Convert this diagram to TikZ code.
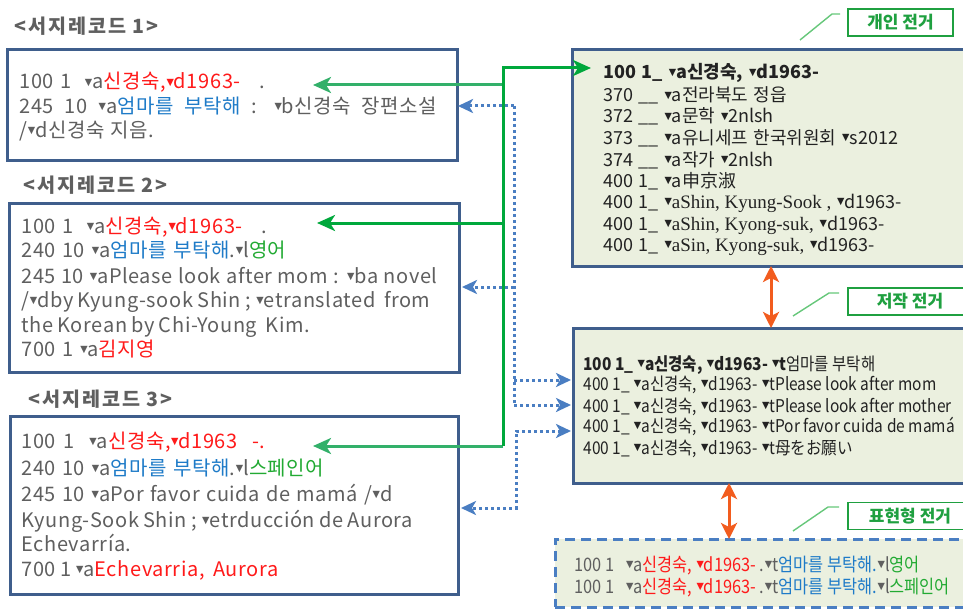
\documentclass[tikz,border=0pt]{standalone}
\usepackage{fontspec}
\setmainfont{Noto Sans CJK KR}
\newfontfamily\recfont[WordSpace=1.25,LetterSpace=3]{Noto Sans CJK KR}
\newfontfamily\titlefont[LetterSpace=10]{Noto Sans CJK KR}
\newfontfamily\authfont[WordSpace=1.3]{Noto Sans CJK KR}
\newfontfamily\trifont{DejaVu Sans}
\newfontfamily\serifpart{Liberation Serif}
\newfontfamily\condfont[FakeStretch=0.88]{Noto Sans CJK KR}
\usetikzlibrary{arrows.meta}
\definecolor{boxblue}{HTML}{3F5E8C}
\definecolor{fillg}{HTML}{EBF0DF}
\definecolor{txtgray}{HTML}{5F5F5F}
\definecolor{txtred}{HTML}{FF1A1A}
\definecolor{txtblue}{HTML}{1E7BC8}
\definecolor{txtgreen}{HTML}{22AA33}
\definecolor{arrgreen}{HTML}{00A83C}
\definecolor{arrgreenl}{HTML}{33B06A}
\definecolor{dotblue}{HTML}{4A7EC2}
\definecolor{orng}{HTML}{F25C1E}
\definecolor{lblgreen}{HTML}{1FA040}
\definecolor{leadgreen}{HTML}{66C77A}
\definecolor{darktxt}{HTML}{222222}
\newcommand\tri{{\trifont\fontsize{4.8}{5}\selectfont\hspace{0.3pt}\raisebox{1.6pt}{▼}}}
\newcommand\cred[1]{\textcolor{txtred}{#1}}
\newcommand\cblue[1]{\textcolor{txtblue}{#1}}
\newcommand\cgrn[1]{\textcolor{txtgreen}{#1}}
\newcommand\fitline[2]{\makebox[#1][s]{#2}}
\tikzset{
  recbox/.style={draw=boxblue, line width=1.5pt, fill=white, anchor=north west, inner sep=0pt, outer sep=0pt},
  authbox/.style={draw=boxblue, line width=1.5pt, fill=fillg, anchor=north west, inner sep=0pt, outer sep=0pt},
  exprbox/.style={draw=dotblue, line width=1.5pt, dash pattern=on 5pt off 3pt, fill=fillg, anchor=north west, inner sep=0pt, outer sep=0pt},
  ln/.style={anchor=base west, inner sep=0pt, font=\recfont\fontsize{10}{12}\selectfont, text=txtgray},
  lnA/.style={anchor=base west, inner sep=0pt, font=\authfont\fontsize{9}{11}\selectfont, text=darktxt},
  lnB/.style={anchor=base west, inner sep=0pt, font=\condfont\fontsize{8.8}{10}\selectfont, text=darktxt},
  lnC/.style={anchor=base west, inner sep=0pt, font=\condfont\fontsize{9.3}{11}\selectfont, text=txtgray},
  rectitle/.style={anchor=west, inner sep=0pt, font=\titlefont\bfseries\fontsize{9.8}{11}\selectfont, text=txtgray},
  lbl/.style={draw=lblgreen, line width=0.7pt, fill=white, text=lblgreen, font=\bfseries\fontsize{8.5}{10}\selectfont, minimum height=13.5pt, inner sep=0pt},
  leader/.style={draw=leadgreen, line width=0.7pt},
  garrow/.style={draw=arrgreen, line width=1.5pt, -{Stealth[length=9pt,width=8pt,inset=2.5pt]}},
  garrowl/.style={draw=arrgreenl, line width=1.5pt, -{Stealth[length=9pt,width=8pt,inset=2.5pt]}},
  dline/.style={draw=dotblue, line width=1.5pt, dash pattern=on 1.5pt off 1.5pt},
  darrow/.style={dline, -{Stealth[length=7.5pt,width=7pt,inset=2pt]}},
  dboth/.style={dline, {Stealth[length=7.5pt,width=7pt,inset=2pt]}-{Stealth[length=7.5pt,width=7pt,inset=2pt]}},
  oarrow/.style={draw=orng, line width=1.5pt, {Stealth[length=8pt,width=8pt,inset=2pt]}-{Stealth[length=8pt,width=8pt,inset=2pt]}}
}
\begin{document}
\begin{tikzpicture}[x=0.5pt,y=-0.5pt]
\useasboundingbox (0,0) rectangle (963,610);
% titles
\node[rectitle] (t1) at (14,26) {<서지레코드 1>};
\node[rectitle] (t2) at (23,185) {<서지레코드 2>};
\node[rectitle] (t3) at (28,399) {<서지레코드 3>};
% record boxes
\node[recbox, minimum width=225pt, minimum height=55pt] (b1) at (7,50) {};
\node[recbox, minimum width=225pt, minimum height=84.5pt] (b2) at (9,203) {};
\node[recbox, minimum width=224pt, minimum height=89pt] (b3) at (10,416) {};
% authority boxes
\node[authbox, minimum width=202pt, minimum height=108pt] (bA) at (572,50) {};
\node[authbox, minimum width=202pt, minimum height=77.5pt] (bB) at (573,328) {};
\node[exprbox, minimum width=212pt, minimum height=34pt] (bC) at (555,539) {};
% record 1
\node[ln] (r1a) at (19,89) {\fitline{123pt}{100 1\ \ \tri a\cred{신경숙,\tri d1963-}\ \ \ .}};
\node[ln] (r1b) at (19,113) {\fitline{209pt}{245 10 \tri a\cblue{엄마를 부탁해} : \tri b신경숙 장편소설}};
\node[ln] (r1c) at (19,137) {/\tri d신경숙 지음.};
% record 2
\node[ln] (r2a) at (21,233) {\fitline{123pt}{100 1\ \ \tri a\cred{신경숙,\tri d1963-}\ \ \ .}};
\node[ln] (r2b) at (21,257) {240 10 \tri a\cblue{엄마를 부탁해}.\tri l\cgrn{영어}};
\node[ln] (r2c) at (21,283) {\fitline{208pt}{245 10 \tri aPlease look after mom : \tri ba novel}};
\node[ln] (r2d) at (21,307) {\fitline{202.5pt}{/\tri dby Kyung-sook Shin ; \tri etranslated\ \ from}};
\node[ln] (r2e) at (21,332) {\fitline{142pt}{the Korean by Chi-Young\ \ Kim.}};
\node[ln] (r2f) at (21,356) {700 1 \tri a\cred{김지영}};
% record 3
\node[ln] (r3a) at (21,448) {\fitline{122pt}{100 1\ \ \tri a\cred{신경숙,\tri d1963\ \ -.}}};
\node[ln] (r3b) at (21,475) {240 10 \tri a\cblue{엄마를 부탁해}.\tri l\cgrn{스페인어}};
\node[ln] (r3c) at (21,501) {\fitline{185.5pt}{245 10 \tri aPor favor cuida de mamá /\tri d}};
\node[ln] (r3d) at (21,527) {\fitline{195pt}{Kyung-Sook Shin ; \tri etrducción de Aurora}};
\node[ln] (r3e) at (21,551) {Echevarría.};
\node[ln] (r3f) at (21,576) {\fitline{124.5pt}{700 1 \tri a\cred{Echevarria,\ \ Aurora}}};
% box A
\node[lnA] (aa) at (603,79) {\bfseries 100 1\_ \tri a신경숙, \tri d1963-};
\node[lnA] (ab) at (603,102) {370 \_\_ \tri a전라북도 정읍};
\node[lnA] (ac) at (603,123) {372 \_\_ \tri a문학 \tri 2nlsh};
\node[lnA] (ad) at (603,144) {373 \_\_ \tri a유니세프 한국위원회 \tri s2012};
\node[lnA] (ae) at (603,166) {374 \_\_ \tri a작가 \tri 2nlsh};
\node[lnA] (af) at (603,187) {400 1\_ \tri a申京淑};
\node[lnA] (ag) at (603,208) {400 1\_ \tri{\serifpart\fontsize{9.5}{11}\selectfont aShin, Kyung-Sook ,} \tri d1963-};
\node[lnA] (ah) at (603,230) {400 1\_ \tri{\serifpart\fontsize{9.5}{11}\selectfont aShin, Kyong-suk,} \tri d1963-};
\node[lnA] (ai) at (603,251) {400 1\_ \tri{\serifpart\fontsize{9.5}{11}\selectfont aSin, Kyong-suk,} \tri d1963-};
% box B
\node[lnB] (ba) at (583,370) {{\bfseries 100 1\_ \tri a신경숙, \tri d1963- \tri t}엄마를 부탁해};
\node[lnB] (bb) at (583,390) {400 1\_ \tri a신경숙, \tri d1963- \tri tPlease look after mom};
\node[lnB] (bc) at (583,412) {400 1\_ \tri a신경숙, \tri d1963- \tri tPlease look after mother};
\node[lnB] (bd) at (583,432) {400 1\_ \tri a신경숙, \tri d1963- \tri tPor favor cuida de mamá};
\node[lnB] (be) at (583,454) {400 1\_ \tri a신경숙, \tri d1963- \tri t母をお願い};
% box C
\node[lnC] (ca) at (574,571) {100 1\ \ \ \tri a\cred{신경숙, \tri d1963-} .\tri t\cblue{엄마를 부탁해.}\tri l\cgrn{영어}};
\node[lnC] (cb) at (574,593) {100 1\ \ \ \tri a\cred{신경숙, \tri d1963-} .\tri t\cblue{엄마를 부탁해.}\tri l\cgrn{스페인어}};
% labels
\node[lbl, minimum width=52.5pt] (lA) at (900.5,22.5) {개인 전거};
\node[lbl, minimum width=62pt] (lB) at (910,301.5) {저작 전거};
\node[lbl, minimum width=62pt] (lC) at (910,516) {표현형 전거};
\coordinate (kA1) at (800,40); \coordinate (kA2) at (832,14); \coordinate (kA3) at (840,14);
\coordinate (kB1) at (793,316); \coordinate (kB2) at (829,293); \coordinate (kB3) at (839,293);
\coordinate (kC1) at (793,531); \coordinate (kC2) at (828,507); \coordinate (kC3) at (839,507);
\draw[leader] (kA1) -- (kA2) -- (kA3);
\draw[leader] (kB1) -- (kB2) -- (kB3);
\draw[leader] (kC1) -- (kC2) -- (kC3);
% green connectors
\coordinate (g0) at (503,68);
\coordinate (g1) at (503,85);
\coordinate (g2) at (503,223);
\coordinate (g3) at (503,446);
\coordinate (tA) at (591,68);
\coordinate (t1) at (313,85);
\coordinate (t2) at (317,223);
\coordinate (t3) at (313,446);
\draw[garrowl] (g1) -- (t1);
\draw[garrow] (g2) -- (t2);
\draw[garrowl] (g3) -- (t3);
\draw[garrow] (g3) -- (g0) -- (tA);
% blue dotted connectors
\coordinate (d1) at (514,106);
\coordinate (d2) at (514,287);
\coordinate (d3) at (514,380);
\coordinate (d4) at (514,405);
\coordinate (s1) at (458,106);
\coordinate (s2) at (462,287);
\coordinate (sB1) at (571,380);
\coordinate (sB2) at (571,405);
\coordinate (e1) at (516,431);
\coordinate (e2) at (516,508);
\coordinate (sB3) at (571,431);
\coordinate (s3) at (461,508);
\draw[dline] (d1) -- (d4);
\draw[darrow] (d1) -- (s1);
\draw[darrow] (d2) -- (s2);
\draw[darrow] (d3) -- (sB1);
\draw[darrow] (d4) -- (sB2);
\draw[dboth] (sB3) -- (e1) -- (e2) -- (s3);
% orange
\coordinate (ox1) at (771,0);
\coordinate (ox2) at (729,0);
\draw[oarrow] (bA.south -| ox1) -- (bB.north -| ox1);
\draw[oarrow] (bB.south -| ox2) -- (bC.north -| ox2);
\end{tikzpicture}
\end{document}
